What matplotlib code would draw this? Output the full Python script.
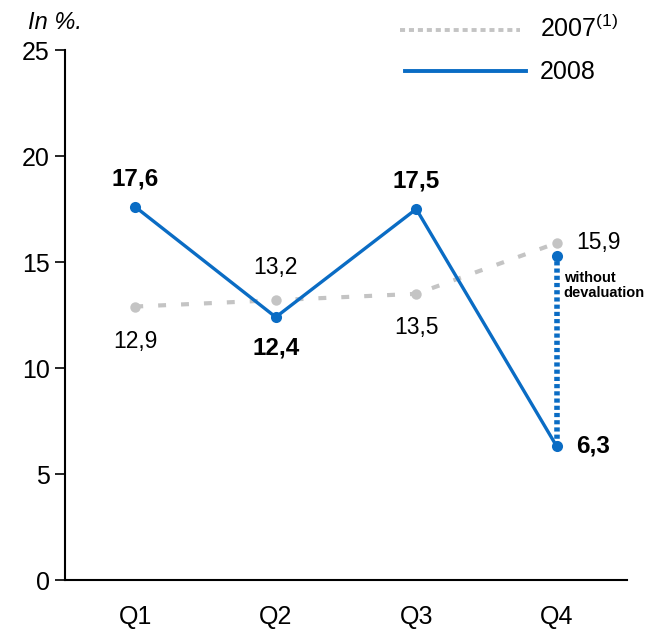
import matplotlib.pyplot as plt
from matplotlib.lines import Line2D

plt.rcParams['font.family'] = ['Liberation Sans', 'DejaVu Sans']

quarters = ["Q1", "Q2", "Q3", "Q4"]
y2007 = [12.9, 13.2, 13.5, 15.9]
y2008 = [17.6, 12.4, 17.5, 6.3]
lbl2007 = ["12,9", "13,2", "13,5", "15,9"]
lbl2008 = ["17,6", "12,4", "17,5", "6,3"]
q4_without_deval = 15.3

grey = "#c4c4c4"
blue = "#0a6cc4"

fig = plt.figure(figsize=(6.52, 6.33), dpi=100)
ax = fig.add_axes([0.0997, 0.0837, 0.862, 0.8373])

x = list(range(len(quarters)))

# 2007: grey dashed line
ax.plot(x, y2007, color=grey, lw=3, ls=(0, (1.9, 3.6)), marker="o", ms=7.5,
        markeredgewidth=0, zorder=2)

# 2008: blue solid line
ax.plot(x, y2008, color=blue, lw=2.4, marker="o", ms=8, markeredgewidth=0, zorder=3)

# Q4 without devaluation
ax.plot([3, 3], [y2008[3], q4_without_deval], color=blue, lw=4,
        ls=(0, (0.75, 0.55)), zorder=3)
ax.plot([3], [q4_without_deval], color=blue, marker="o", ms=8, markeredgewidth=0, zorder=4)
ax.text(3.05, 13.9, "without\ndevaluation", fontsize=10.5, fontweight="bold",
        va="center", ha="left", linespacing=1.15)

# value labels
off2007 = [(0, -1.65), (0, 1.55), (0, -1.6), (0.14, 0.0)]
for i, (v, s) in enumerate(zip(y2007, lbl2007)):
    dx, dy = off2007[i]
    ha = "left" if dx > 0 else "center"
    ax.text(i + dx, v + dy, s, fontsize=16.5, ha=ha, va="center")

off2008 = [(0, 1.3), (0, -1.45), (0, 1.3), (0.14, 0.0)]
for i, (v, s) in enumerate(zip(y2008, lbl2008)):
    dx, dy = off2008[i]
    ha = "left" if dx > 0 else "center"
    ax.text(i + dx, v + dy, s, fontsize=17.5, fontweight="bold", ha=ha, va="center")

ax.set_xlim(-0.5, 3.5)
ax.set_ylim(0, 25)
ax.set_yticks([0, 5, 10, 15, 20, 25])
ax.set_xticks(x)
ax.set_xticklabels(quarters)
ax.tick_params(axis="y", length=7, width=1.2, labelsize=18, pad=4)
ax.tick_params(axis="x", length=0, labelsize=18, pad=18)
for side in ["top", "right"]:
    ax.spines[side].set_visible(False)
ax.spines["left"].set_linewidth(1.5)
ax.spines["bottom"].set_linewidth(1.5)

fig.text(0.043, 0.965, "In %.", fontsize=17, style="italic", ha="left", va="center")

# legend drawn by hand
fig.add_artist(Line2D([0.613, 0.798], [0.953, 0.953], color=grey, lw=2.8,
                      ls=(0, (1.3, 1.0)), transform=fig.transFigure))
fig.add_artist(Line2D([0.621, 0.807], [0.888, 0.888], color=blue, lw=2.8,
                      transform=fig.transFigure))
fig.text(0.828, 0.955, "2007$^{\\mathregular{(1)}}$", fontsize=18, ha="left", va="center")
fig.text(0.828, 0.886, "2008", fontsize=18, ha="left", va="center")

fig.savefig("out.png", dpi=100)
